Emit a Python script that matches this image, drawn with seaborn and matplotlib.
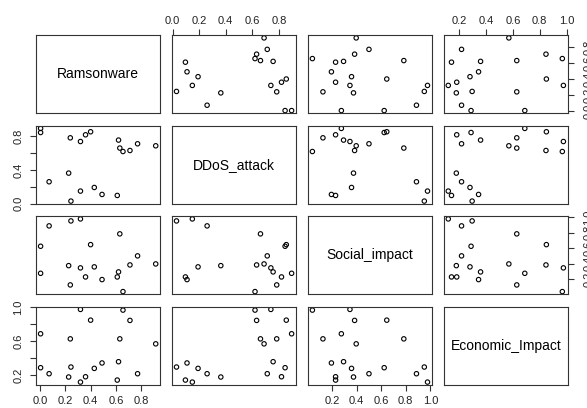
import pandas as pd
import seaborn as sns
import matplotlib
matplotlib.use("Agg")
import matplotlib.pyplot as plt

ramsonware = [0.006, 0.006, 0.240, 0.320, 0.360, 0.400, 0.620, 0.630, 0.655, 0.710,
              0.770, 0.913, 0.073, 0.227, 0.320, 0.429, 0.490, 0.610, 0.245]
ddos_attack = [0.895, 0.846, 0.783, 0.739, 0.819, 0.855, 0.756, 0.661, 0.620, 0.632,
               0.712, 0.688, 0.260, 0.363, 0.149, 0.192, 0.109, 0.097, 0.030]
social_impact = [0.275, 0.624, 0.125, 0.345, 0.228, 0.645, 0.293, 0.784, 0.039, 0.383,
                 0.500, 0.396, 0.887, 0.374, 0.977, 0.358, 0.194, 0.228, 0.951]
economic_impact = [0.688, 0.287, 0.628, 0.976, 0.180, 0.849, 0.358, 0.628, 0.968, 0.846,
                   0.216, 0.569, 0.216, 0.177, 0.117, 0.279, 0.343, 0.141, 0.295]

var_names = ["Ramsonware", "DDoS_attack", "Social_impact", "Economic_Impact"]
var_ticks = [
    [0.0, 0.2, 0.4, 0.6, 0.8],
    [0.0, 0.2, 0.4, 0.6, 0.8],
    [0.2, 0.4, 0.6, 0.8, 1.0],
    [0.2, 0.4, 0.6, 0.8, 1.0],
]
# left-side labels skip every other tick (as R drops overlapping ones)
left_labels = {
    1: ["0.0", "", "0.4", "", "0.8"],
    3: ["0.2", "", "0.6", "", "1.0"],
}

INK = "#222222"
plt.rcParams["font.family"] = ["Liberation Sans", "DejaVu Sans"]
plt.rcParams["axes.xmargin"] = 0.04
plt.rcParams["axes.ymargin"] = 0.04
plt.rcParams["axes.linewidth"] = 0.8
plt.rcParams["axes.edgecolor"] = "#333333"


def main():
    df = pd.DataFrame({
        var_names[0]: ramsonware,
        var_names[1]: ddos_attack,
        var_names[2]: social_impact,
        var_names[3]: economic_impact,
    })

    g = sns.PairGrid(df, despine=False, height=1.0, aspect=1.5)
    g.map_offdiag(sns.scatterplot, marker="o", s=10, facecolor="none",
                  edgecolor="black", linewidth=0.8)

    n = len(var_names)
    for i in range(n):
        for j in range(n):
            ax = g.axes[i, j]
            ax.set_xlabel("")
            ax.set_ylabel("")
            ax.tick_params(which="both", bottom=False, top=False, left=False, right=False,
                           labelbottom=False, labeltop=False, labelleft=False, labelright=False)
            if i == j:
                ax.text(0.5, 0.5, var_names[i], transform=ax.transAxes,
                        ha="center", va="center", fontsize=10, color="black")

    tick_kw = dict(direction="out", length=4, width=0.8, color="#333333",
                   labelsize=8, labelcolor=INK)

    # top axes (columns 2 and 4)
    for j in (1, 3):
        ax = g.axes[0, j]
        ax.set_xticks(var_ticks[j])
        ax.set_xticklabels([f"{t:.1f}" for t in var_ticks[j]])
        ax.tick_params(axis="x", top=True, labeltop=True, pad=2.5, **tick_kw)
    # bottom axes (columns 1 and 3)
    for j in (0, 2):
        ax = g.axes[n - 1, j]
        ax.set_xticks(var_ticks[j])
        ax.set_xticklabels([f"{t:.1f}" for t in var_ticks[j]])
        ax.tick_params(axis="x", bottom=True, labelbottom=True, pad=4, **tick_kw)
    # left axes (rows 2 and 4)
    for i in (1, 3):
        ax = g.axes[i, 0]
        ax.set_yticks(var_ticks[i])
        ax.set_yticklabels(left_labels[i])
        ax.tick_params(axis="y", left=True, labelleft=True, pad=5, labelrotation=90, **tick_kw)
        for lab in ax.get_yticklabels():
            lab.set_va("center")
    # right axes (rows 1 and 3); like the reference, these sit at the page edge
    for i in (0, 2):
        ax = g.axes[i, n - 1]
        ax.set_yticks(var_ticks[i])
        ax.set_yticklabels([f"{t:.1f}" for t in var_ticks[i]])
        ax.tick_params(axis="y", right=True, labelright=True, pad=7, labelrotation=90, **tick_kw)
        for lab in ax.get_yticklabels():
            lab.set_va("center")

    fig = g.figure
    fig.set_size_inches(5.87, 4.08)
    fig.subplots_adjust(left=36 / 587, right=568 / 587, top=1 - 35 / 408, bottom=1 - 385 / 408,
                        wspace=0.093, hspace=0.153)
    fig.savefig("out.png", dpi=100, facecolor="white")


if __name__ == "__main__":
    main()
